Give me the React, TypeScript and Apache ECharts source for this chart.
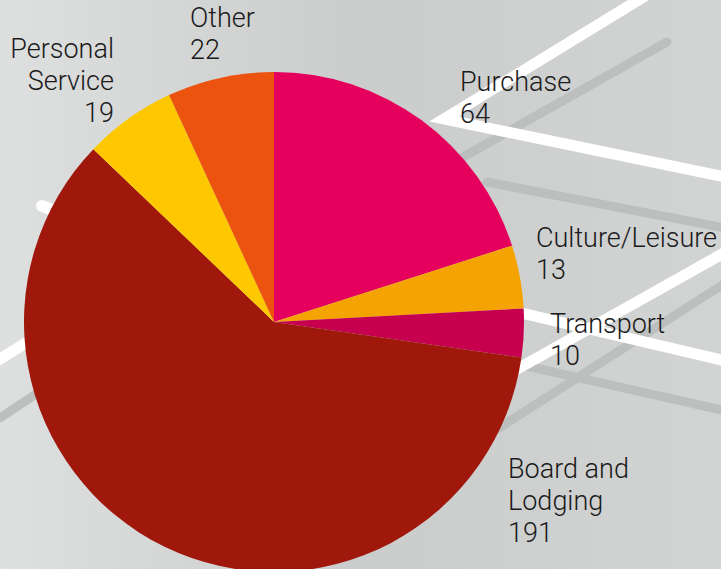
import React, { useEffect, useRef } from "react";
import * as echarts from "echarts";

const categories = ["Purchase", "Culture/Leisure", "Transport", "Board and Lodging", "Personal Service", "Other"];
const values = [64, 13, 10, 191, 19, 22];
const labelTexts = ["Purchase", "Culture/Leisure", "Transport", "Board and\nLodging", "Personal\nService", "Other"];
const colors = ["#E4005C", "#F5A300", "#C6004E", "#A0180C", "#FDC800", "#EB530E"];

// label anchor positions (layout only)
const labelPos: [number, number, string][] = [
  [460, 98, "left"],
  [536, 254, "left"],
  [550, 340, "left"],
  [508, 501, "left"],
  [114, 81, "right"],
  [190, 34, "left"],
];

const bgLines: { pts: number[][]; color: string; w: number }[] = [
  { pts: [[667, 42], [440, 170]], color: "#bdbebe", w: 9 },
  { pts: [[487, 182], [730, 229]], color: "#bdbebe", w: 9 },
  { pts: [[730, 280], [480, 440]], color: "#bdbebe", w: 9 },
  { pts: [[500, 360], [730, 412]], color: "#bdbebe", w: 9 },
  { pts: [[0, 418], [60, 378]], color: "#bdbebe", w: 9 },
  { pts: [[645, -4], [444, 119], [730, 178]], color: "#ffffff", w: 11 },
  { pts: [[740, 244], [480, 390]], color: "#ffffff", w: 11 },
  { pts: [[500, 308], [730, 362]], color: "#ffffff", w: 11 },
  { pts: [[42, 206], [120, 236]], color: "#ffffff", w: 12 },
  { pts: [[-5, 362], [60, 322]], color: "#ffffff", w: 11 },
];

export default function App() {
  const ref = useRef<HTMLDivElement>(null);
  useEffect(() => {
    if (!ref.current) return;
    const chart = echarts.init(ref.current, undefined, { renderer: "svg" });
    const graphics: any[] = [
      {
        type: "rect",
        z: -20,
        shape: { x: 0, y: 0, width: 721, height: 569 },
        style: {
          fill: new echarts.graphic.LinearGradient(0, 0, 1, 0, [
            { offset: 0, color: "#dedfdf" },
            { offset: 0.5, color: "#cbcccc" },
            { offset: 1, color: "#d2d3d3" },
          ]),
        },
        silent: true,
      },
      ...bgLines.map((l, i) => ({
        type: "polyline",
        z: -10 + i * 0.01,
        shape: { points: l.pts },
        style: { stroke: l.color, lineWidth: l.w, fill: null, lineCap: "round", lineJoin: "miter" },
        silent: true,
      })),
    ];
    chart.setOption({
      animation: false,
      graphic: graphics,
      series: [
        {
          type: "pie",
          z: 5,
          center: [274, 322],
          radius: 250,
          startAngle: 90,
          clockwise: true,
          avoidLabelOverlap: false,
          data: categories.map((c, i) => ({
            name: c,
            value: values[i],
            itemStyle: { color: colors[i] },
          })),
          label: {
            show: true,
            position: "outside",
            formatter: (p: any) => labelTexts[p.dataIndex] + "\n" + p.value,
            fontFamily: "Roboto",
            fontWeight: 300,
            fontSize: 27,
            lineHeight: 32,
            color: "#1a1a1a",
          },
          labelLine: { show: false },
          labelLayout: (p: any) => {
            const lp = labelPos[p.dataIndex];
            return { x: lp[0], y: lp[1], align: lp[2], verticalAlign: "middle" };
          },
          emphasis: { disabled: true },
        },
      ],
    });
    return () => chart.dispose();
  }, []);
  return <div ref={ref} style={{ position: "absolute", left: 0, top: 0, width: 721, height: 569 }} />;
}
